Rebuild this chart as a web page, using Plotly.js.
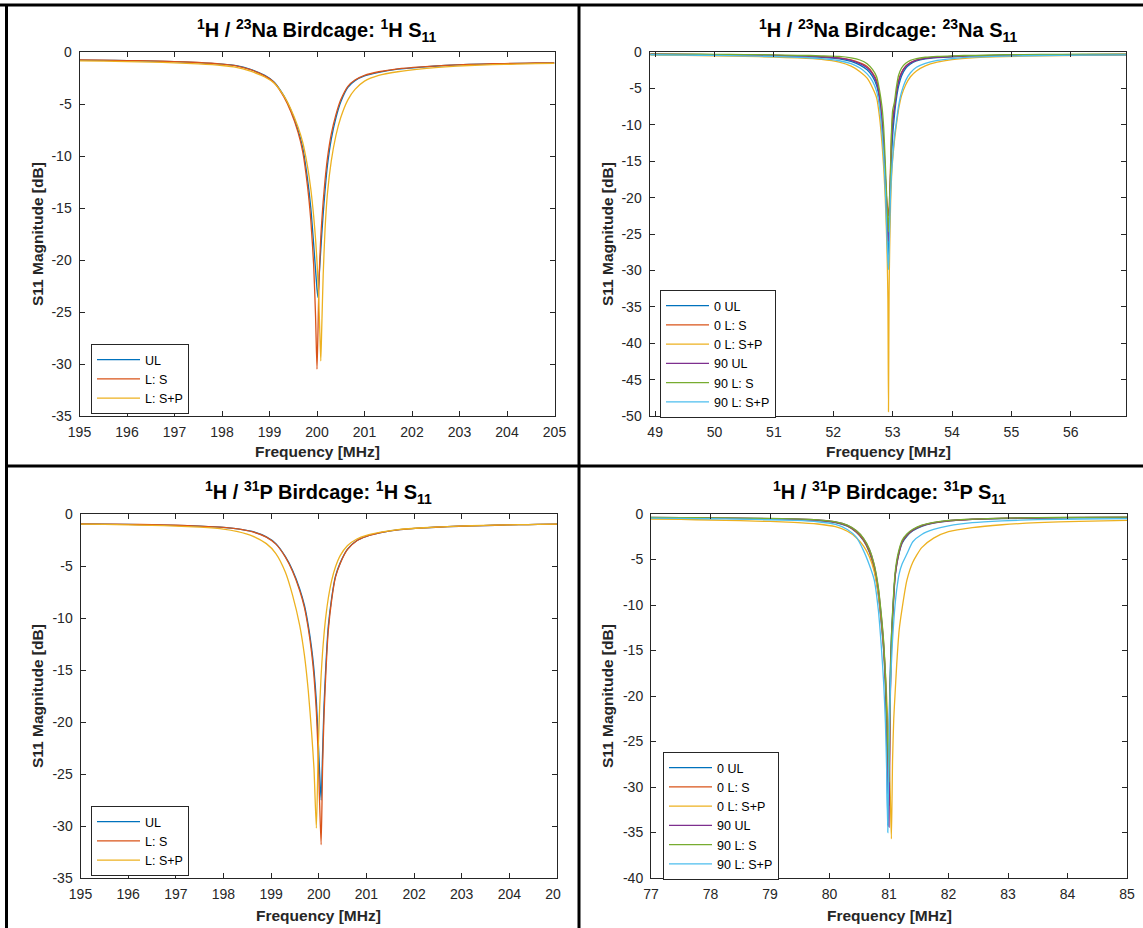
<!DOCTYPE html>
<html>
<head>
<meta charset="utf-8">
<script src="https://cdn.plot.ly/plotly-3.0.1.min.js"></script>
<style>
  html, body { margin: 0; padding: 0; background: #ffffff; }
  #chart { width: 1143px; height: 928px; }
</style>
</head>
<body>
<div id="chart"></div>
<script>
// ---------- 1H / 23Na birdcage, 1H channel (frequency in MHz, S11 in dB) ----------
const naH_freq = [195, 195.5, 196, 196.5, 197, 197.5, 198, 198.3, 198.6, 198.9, 199.1, 199.3, 199.45, 199.6, 199.7, 199.8, 199.87, 199.93, 199.97, 200.0, 200.02, 200.04, 200.06, 200.08, 200.1, 200.13, 200.17, 200.22, 200.3, 200.4, 200.5, 200.65, 200.8, 201.0, 201.3, 201.7, 202.2, 202.7, 203.2, 203.7, 204.2, 204.6, 205];
const naH_UL = [-0.78, -0.80, -0.83, -0.87, -0.93, -1.02, -1.17, -1.32, -1.68, -2.25, -2.9, -4.2, -5.6, -7.5, -9.2, -12.2, -15.0, -18.5, -21.0, -22.8, -23.6, -22.0, -20.5, -19.0, -17.6, -15.6, -13.3, -10.9, -8.4, -6.3, -4.8, -3.4, -2.75, -2.3, -1.95, -1.65, -1.45, -1.3, -1.2, -1.14, -1.1, -1.07, -1.05];
const naH_LS = [-0.76, -0.79, -0.82, -0.86, -0.92, -1.01, -1.17, -1.33, -1.7, -2.3, -2.95, -4.3, -5.75, -7.7, -9.6, -12.9, -16.2, -20.5, -25.5, -30.5, -27.0, -22.5, -19.8, -17.8, -16.3, -14.4, -12.3, -10.2, -7.9, -6.0, -4.6, -3.3, -2.7, -2.25, -1.9, -1.62, -1.43, -1.29, -1.19, -1.13, -1.09, -1.06, -1.04];
const naH_LSP = [-0.85, -0.88, -0.92, -0.97, -1.04, -1.14, -1.3, -1.47, -1.85, -2.4, -3.0, -4.2, -5.5, -7.2, -8.7, -11.0, -13.2, -15.8, -18.0, -20.2, -22.0, -24.3, -27.0, -29.7, -26.5, -21.5, -17.0, -13.6, -10.5, -8.0, -6.3, -4.6, -3.6, -2.8, -2.25, -1.9, -1.62, -1.43, -1.3, -1.22, -1.16, -1.12, -1.1];

// ---------- 1H / 23Na birdcage, 23Na channel ----------
const naNa_freq = [48.92, 49.5, 50, 50.5, 51, 51.4, 51.8, 52.1, 52.3, 52.45, 52.57, 52.66, 52.73, 52.78, 52.82, 52.85, 52.875, 52.895, 52.91, 52.92, 52.93, 52.94, 52.95, 52.965, 52.98, 53.0, 53.03, 53.06, 53.1, 53.15, 53.22, 53.3, 53.4, 53.55, 53.75, 54.0, 54.4, 54.9, 55.5, 56.2, 56.93];
const naNa_0UL = [-0.33, -0.36, -0.4, -0.45, -0.52, -0.6, -0.74, -0.95, -1.3, -1.8, -2.45, -3.35, -4.6, -6.5, -9.2, -12.5, -16.5, -21.0, -24.5, -27.0, -28.5, -26.0, -22.5, -18.0, -14.5, -11.5, -8.7, -6.6, -4.7, -3.3, -2.25, -1.65, -1.22, -0.93, -0.76, -0.65, -0.55, -0.48, -0.42, -0.38, -0.35];
const naNa_0LS = [-0.3, -0.33, -0.36, -0.4, -0.46, -0.53, -0.64, -0.8, -1.08, -1.5, -2.0, -2.85, -3.9, -6.0, -9.6, -13.5, -17.0, -19.8, -21.0, -21.9, -22.5, -21.5, -19.5, -15.5, -11.5, -9.0, -7.6, -5.7, -3.9, -2.8, -1.95, -1.45, -1.1, -0.85, -0.7, -0.6, -0.52, -0.46, -0.4, -0.36, -0.33];
const naNa_0LSP = [-0.42, -0.47, -0.53, -0.6, -0.7, -0.82, -1.02, -1.4, -1.95, -2.7, -3.6, -4.9, -6.3, -9.0, -12.5, -16.0, -20.0, -24.5, -29.0, -34.0, -49.4, -33.0, -27.0, -21.0, -17.5, -14.8, -12.2, -10.2, -7.9, -6.0, -4.5, -3.4, -2.6, -1.9, -1.4, -1.05, -0.78, -0.63, -0.53, -0.47, -0.43];
const naNa_90UL = [-0.3, -0.33, -0.37, -0.41, -0.47, -0.55, -0.67, -0.85, -1.15, -1.6, -2.15, -3.0, -4.2, -6.3, -9.5, -13.0, -17.0, -21.0, -23.5, -25.0, -26.0, -24.0, -21.0, -17.0, -13.0, -10.0, -7.8, -5.9, -4.1, -2.9, -2.0, -1.5, -1.12, -0.87, -0.72, -0.62, -0.53, -0.47, -0.41, -0.37, -0.34];
const naNa_90LS = [-0.28, -0.3, -0.32, -0.35, -0.4, -0.45, -0.52, -0.6, -0.8, -1.1, -1.6, -2.4, -3.4, -5.3, -7.5, -10.5, -15.0, -19.0, -21.5, -23.3, -24.7, -22.8, -20.5, -16.5, -11.0, -8.0, -6.9, -5.0, -3.2, -2.2, -1.55, -1.15, -0.9, -0.72, -0.6, -0.52, -0.45, -0.38, -0.33, -0.3, -0.28];
const naNa_90LSP = [-0.38, -0.42, -0.47, -0.53, -0.62, -0.72, -0.9, -1.2, -1.6, -2.2, -3.0, -4.0, -5.4, -7.6, -11.0, -14.5, -18.5, -23.0, -26.5, -28.7, -29.9, -27.5, -23.5, -19.5, -16.8, -14.5, -11.6, -9.8, -7.4, -5.5, -3.9, -2.85, -2.1, -1.55, -1.15, -0.9, -0.68, -0.56, -0.48, -0.43, -0.4];

// ---------- 1H / 31P birdcage, 1H channel ----------
const pH_freq = [195, 195.5, 196, 196.5, 197, 197.5, 198, 198.3, 198.6, 198.9, 199.1, 199.3, 199.45, 199.6, 199.7, 199.78, 199.85, 199.9, 199.95, 199.99, 200.02, 200.05, 200.08, 200.11, 200.15, 200.2, 200.27, 200.35, 200.45, 200.6, 200.8, 201.0, 201.3, 201.7, 202.2, 202.7, 203.2, 203.7, 204.2, 204.6, 205];
const pH_UL = [-0.96, -0.98, -1.0, -1.04, -1.09, -1.17, -1.28, -1.42, -1.68, -2.2, -2.85, -4.1, -5.4, -7.2, -8.8, -10.7, -12.9, -15.0, -18.0, -21.8, -25.0, -27.5, -23.0, -18.5, -14.5, -10.8, -8.1, -6.0, -4.7, -3.4, -2.55, -2.15, -1.8, -1.5, -1.33, -1.22, -1.14, -1.08, -1.03, -1.0, -0.98];
const pH_LS = [-0.95, -0.97, -0.99, -1.03, -1.08, -1.16, -1.28, -1.43, -1.7, -2.22, -2.9, -4.15, -5.5, -7.35, -9.0, -11.0, -13.3, -15.6, -19.0, -23.5, -28.0, -31.8, -24.5, -19.5, -15.2, -11.2, -8.3, -6.1, -4.75, -3.42, -2.57, -2.16, -1.8, -1.5, -1.33, -1.22, -1.14, -1.08, -1.03, -1.0, -0.98];
const pH_LSP = [-0.97, -1.0, -1.04, -1.09, -1.16, -1.27, -1.45, -1.7, -2.1, -2.85, -3.8, -5.6, -7.8, -10.7, -13.6, -17.0, -21.0, -24.5, -30.2, -22.5, -18.5, -15.5, -13.3, -11.6, -9.8, -8.1, -6.4, -5.1, -4.0, -3.05, -2.4, -2.05, -1.75, -1.48, -1.32, -1.21, -1.13, -1.07, -1.03, -1.0, -0.98];

// ---------- 1H / 31P birdcage, 31P channel ----------
const pP_freq = [77, 77.5, 78, 78.5, 79, 79.4, 79.8, 80.1, 80.3, 80.45, 80.57, 80.67, 80.75, 80.82, 80.87, 80.91, 80.94, 80.96, 80.98, 81.0, 81.02, 81.04, 81.06, 81.08, 81.1, 81.13, 81.17, 81.22, 81.3, 81.4, 81.55, 81.75, 82.0, 82.4, 82.9, 83.5, 84.2, 85];
const pP_0UL = [-0.42, -0.44, -0.47, -0.5, -0.55, -0.6, -0.72, -0.95, -1.35, -2.0, -2.9, -4.2, -6.0, -8.8, -12.0, -15.0, -19.0, -24.5, -34.2, -24.0, -17.5, -13.5, -11.0, -8.8, -7.0, -5.6, -4.3, -3.2, -2.45, -1.85, -1.35, -1.0, -0.78, -0.6, -0.5, -0.44, -0.4, -0.38];
const pP_0LS = [-0.4, -0.42, -0.45, -0.48, -0.53, -0.58, -0.7, -0.92, -1.3, -1.95, -2.85, -4.1, -5.9, -8.6, -11.7, -14.8, -18.5, -22.5, -27.0, -32.0, -21.0, -15.0, -11.8, -9.2, -7.1, -5.5, -4.2, -3.1, -2.35, -1.78, -1.3, -0.97, -0.75, -0.58, -0.48, -0.42, -0.39, -0.37];
const pP_0LSP = [-0.55, -0.6, -0.66, -0.73, -0.82, -0.92, -1.1, -1.4, -1.9, -2.6, -3.5, -4.7, -6.3, -8.8, -11.5, -14.5, -17.5, -20.0, -23.0, -26.5, -30.5, -35.7, -27.0, -22.5, -20.0, -16.5, -12.8, -10.4, -7.3, -5.3, -3.7, -2.65, -1.95, -1.5, -1.18, -0.95, -0.8, -0.7];
const pP_90UL = [-0.38, -0.4, -0.43, -0.46, -0.5, -0.55, -0.66, -0.88, -1.25, -1.85, -2.7, -3.9, -5.6, -8.2, -11.2, -14.3, -18.0, -22.0, -27.0, -34.4, -20.0, -14.5, -11.4, -9.0, -7.0, -5.4, -4.1, -3.05, -2.3, -1.75, -1.28, -0.95, -0.73, -0.57, -0.47, -0.41, -0.38, -0.36];
const pP_90LS = [-0.37, -0.39, -0.42, -0.45, -0.49, -0.54, -0.65, -0.86, -1.22, -1.82, -2.65, -3.85, -5.5, -8.0, -11.0, -14.0, -17.6, -21.5, -25.5, -29.5, -19.0, -13.8, -10.8, -8.5, -6.6, -5.1, -3.9, -2.9, -2.2, -1.68, -1.23, -0.92, -0.71, -0.56, -0.46, -0.4, -0.37, -0.35];
const pP_90LSP = [-0.45, -0.48, -0.52, -0.57, -0.63, -0.7, -0.85, -1.15, -1.7, -2.55, -4.0, -5.6, -7.2, -10.5, -14.5, -18.5, -23.0, -28.0, -35.0, -25.5, -20.0, -16.5, -13.8, -11.8, -10.1, -8.3, -6.6, -5.5, -4.4, -3.05, -2.25, -1.7, -1.3, -0.95, -0.75, -0.62, -0.55, -0.5];

// ---------- tick labels ----------
const ticks_H_x = [195, 196, 197, 198, 199, 200, 201, 202, 203, 204, 205];
const ticks_Na_x = [49, 50, 51, 52, 53, 54, 55, 56];
const ticks_P_x = [77, 78, 79, 80, 81, 82, 83, 84, 85];
const ticks_y35 = [0, -5, -10, -15, -20, -25, -30, -35];
const ticks_y40 = [0, -5, -10, -15, -20, -25, -30, -35, -40];
const ticks_y50 = [0, -5, -10, -15, -20, -25, -30, -35, -40, -45, -50];

// series labels
const names3 = ['UL', 'L: S', 'L: S+P'];
const names6 = ['0 UL', '0 L: S', '0 L: S+P', '90 UL', '90 L: S', '90 L: S+P'];

// ---------- drawing ----------
const W = 1143, H = 928;
const FONT = 'Liberation Sans, Arial, Helvetica, sans-serif';
const AX = '#262626';
const COLORS = ['#0072BD', '#D95319', '#EDB120', '#7E2F8E', '#77AC30', '#4DBEEE'];

const px = v => v / W;
const py = v => 1 - v / H;
const lbl = v => String(v);   // plain hyphen minus

function line(x, y, name, color, xa, ya, leg) {
  return {
    type: 'scatter', mode: 'lines', x: x, y: y, name: name,
    xaxis: xa, yaxis: ya, legend: leg,
    line: {color: color, width: 1.3, shape: 'spline', smoothing: 0.6},
    hoverinfo: 'x+y+name'
  };
}

const traces = [];
[naH_UL, naH_LS, naH_LSP].forEach((s, i) => traces.push(line(naH_freq, s, names3[i], COLORS[i], 'x', 'y', 'legend')));
[naNa_0UL, naNa_0LS, naNa_0LSP, naNa_90UL, naNa_90LS, naNa_90LSP].forEach((s, i) => traces.push(line(naNa_freq, s, names6[i], COLORS[i], 'x2', 'y2', 'legend2')));
[pH_UL, pH_LS, pH_LSP].forEach((s, i) => traces.push(line(pH_freq, s, names3[i], COLORS[i], 'x3', 'y3', 'legend3')));
[pP_0UL, pP_0LS, pP_0LSP, pP_90UL, pP_90LS, pP_90LSP].forEach((s, i) => traces.push(line(pP_freq, s, names6[i], COLORS[i], 'x4', 'y4', 'legend4')));

function axis(domain, range, tv, anchor, standoff) {
  return {
    domain: domain, range: range, anchor: anchor,
    tickmode: 'array', tickvals: tv, ticktext: tv.map(lbl),
    ticks: 'inside', ticklen: 5, tickwidth: 1, tickcolor: AX,
    showline: true, linecolor: AX, linewidth: 1, mirror: 'ticks',
    showgrid: false, zeroline: false, fixedrange: true,
    ticklabelstandoff: standoff,
    tickfont: {family: FONT, size: 14, color: AX}
  };
}

const topY = [py(416), py(52)];
const botY = [py(878), py(514)];

function legendBox(x, y) {
  return {
    x: px(x), y: py(y), xanchor: 'left', yanchor: 'top',
    bgcolor: '#ffffff', bordercolor: AX, borderwidth: 1,
    font: {family: FONT, size: 12.5, color: '#000000'},
    itemwidth: 43, tracegroupgap: 0
  };
}

function title(text, cx, cy) {
  return {
    xref: 'paper', yref: 'paper', x: px(cx), y: py(cy),
    xanchor: 'center', yanchor: 'middle', showarrow: false,
    text: '<b>' + text + '</b>',
    font: {family: FONT, size: 20, color: '#000000'}
  };
}
function xTitle(cx, cy) {
  return {
    xref: 'paper', yref: 'paper', x: px(cx), y: py(cy),
    xanchor: 'center', yanchor: 'middle', showarrow: false,
    text: '<b>Frequency [MHz]</b>',
    font: {family: FONT, size: 15.5, color: AX}
  };
}
function yTitle(cx, cy) {
  return {
    xref: 'paper', yref: 'paper', x: px(cx), y: py(cy),
    xanchor: 'center', yanchor: 'middle', showarrow: false, textangle: -90,
    text: '<b>S11 Magnitude [dB]</b>',
    font: {family: FONT, size: 15.5, color: AX}
  };
}

function rule(x0, y0, x1, y1) {
  return {type: 'line', xref: 'paper', yref: 'paper', layer: 'above',
          x0: px(x0), y0: py(y0), x1: px(x1), y1: py(y1),
          line: {color: '#000000', width: 3}};
}

const layout = {
  width: W, height: H,
  margin: {l: 0, r: 0, t: 0, b: 0},
  paper_bgcolor: '#ffffff', plot_bgcolor: '#ffffff',
  font: {family: FONT},
  xaxis: axis([px(79.5), px(554.5)], [195, 205], ticks_H_x, 'y', 3),
  yaxis: axis(topY, [-35, 0], ticks_y35, 'x', 4),
  xaxis2: axis([px(649.5), px(1126)], [48.905, 56.93], ticks_Na_x, 'y2', 3),
  yaxis2: axis(topY, [-50, 0], ticks_y50, 'x2', 4),
  xaxis3: axis([px(80.5), px(557)], [195, 205], ticks_H_x, 'y3', 3),
  yaxis3: axis(botY, [-35, 0], ticks_y35, 'x3', 4),
  xaxis4: axis([px(651), px(1127)], [77, 85], ticks_P_x, 'y4', 3),
  yaxis4: axis(botY, [-40, 0], ticks_y40, 'x4', 4),
  legend: legendBox(91, 344),
  legend2: legendBox(660, 290),
  legend3: legendBox(91, 806),
  legend4: legendBox(663, 752),
  annotations: [
    title('<sup>1</sup>H / <sup>23</sup>Na Birdcage: <sup>1</sup>H S<sub>11</sub>', 317, 30),
    title('<sup>1</sup>H / <sup>23</sup>Na Birdcage: <sup>23</sup>Na S<sub>11</sub>', 888, 30),
    title('<sup>1</sup>H / <sup>31</sup>P Birdcage: <sup>1</sup>H S<sub>11</sub>', 318, 492),
    title('<sup>1</sup>H / <sup>31</sup>P Birdcage: <sup>31</sup>P S<sub>11</sub>', 889, 492),
    xTitle(317, 452), xTitle(888, 452), xTitle(318, 915), xTitle(889, 915),
    yTitle(37, 234), yTitle(607, 234), yTitle(37, 696), yTitle(607, 696)
  ],
  shapes: [
    // white strip trimming the last tick label of the lower-left panel
    {type: 'rect', xref: 'paper', yref: 'paper', layer: 'above',
     x0: px(561), x1: px(577), y0: py(908), y1: py(884),
     fillcolor: '#ffffff', line: {width: 0}},
    // panel frame and dividers
    rule(0, 5, 1143, 5),
    rule(6.5, 5, 6.5, 928),
    rule(579, 5, 579, 928),
    rule(6.5, 466, 1143, 466)
  ]
};

Plotly.newPlot('chart', traces, layout, {displayModeBar: false, staticPlot: true});
</script>
</body>
</html>
